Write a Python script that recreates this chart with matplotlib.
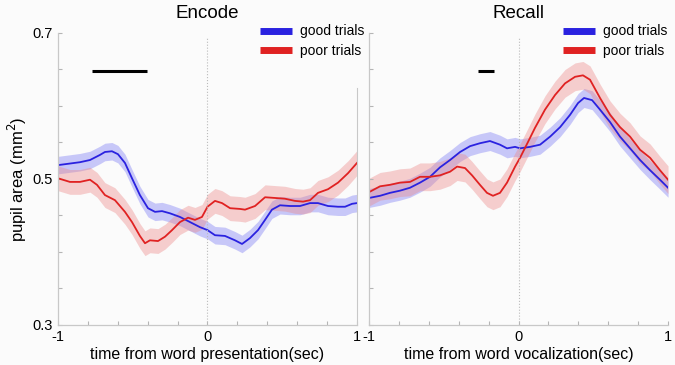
import matplotlib.pyplot as plt
import numpy as np
from matplotlib.lines import Line2D

plt.rcParams['font.family'] = ['Liberation Sans', 'DejaVu Sans']

# ---- data ----
t_enc_good = [-1.0, -0.853, -0.786, -0.719, -0.686, -0.639, -0.599, -0.552, -0.505, -0.452,
              -0.398, -0.351, -0.304, -0.251, -0.184, -0.117, -0.050, 0.0, 0.050, 0.117,
              0.184, 0.231, 0.284, 0.338, 0.385, 0.431, 0.485, 0.552, 0.619, 0.686,
              0.739, 0.806, 0.873, 0.920, 0.967, 1.0]
enc_good = [0.519, 0.523, 0.526, 0.533, 0.537, 0.538, 0.534, 0.522, 0.501, 0.478,
            0.460, 0.455, 0.456, 0.453, 0.448, 0.441, 0.434, 0.430, 0.423, 0.422,
            0.416, 0.411, 0.419, 0.430, 0.444, 0.458, 0.464, 0.463, 0.463, 0.467,
            0.467, 0.463, 0.462, 0.462, 0.466, 0.467]

t_enc_poor = [-1.0, -0.920, -0.853, -0.786, -0.739, -0.686, -0.619, -0.552, -0.505, -0.452,
              -0.418, -0.385, -0.331, -0.284, -0.237, -0.184, -0.130, -0.084, -0.037, 0.0,
              0.050, 0.097, 0.151, 0.217, 0.251, 0.318, 0.385, 0.452, 0.518, 0.585,
              0.639, 0.686, 0.739, 0.806, 0.873, 0.940, 1.0]
enc_poor = [0.501, 0.496, 0.496, 0.499, 0.492, 0.478, 0.471, 0.455, 0.441, 0.422,
            0.412, 0.416, 0.415, 0.421, 0.430, 0.441, 0.447, 0.444, 0.448, 0.462,
            0.470, 0.467, 0.460, 0.459, 0.458, 0.463, 0.475, 0.474, 0.473, 0.470,
            0.469, 0.471, 0.481, 0.486, 0.495, 0.508, 0.522]

t_rec_good = [-1.0, -0.926, -0.860, -0.793, -0.726, -0.659, -0.592, -0.525, -0.458, -0.391,
              -0.324, -0.258, -0.191, -0.124, -0.077, -0.023, 0.010, 0.077, 0.144, 0.211,
              0.278, 0.345, 0.398, 0.438, 0.492, 0.545, 0.612, 0.679, 0.746, 0.813,
              0.880, 0.946, 1.0]
rec_good = [0.474, 0.477, 0.481, 0.484, 0.488, 0.495, 0.503, 0.516, 0.526, 0.537,
            0.545, 0.549, 0.552, 0.547, 0.542, 0.544, 0.542, 0.544, 0.547, 0.558,
            0.571, 0.588, 0.604, 0.611, 0.608, 0.595, 0.578, 0.558, 0.542, 0.526,
            0.512, 0.499, 0.488]

t_rec_poor = [-1.0, -0.926, -0.860, -0.793, -0.726, -0.659, -0.592, -0.525, -0.458, -0.411,
              -0.358, -0.311, -0.258, -0.211, -0.171, -0.124, -0.077, -0.023, 0.010, 0.064,
              0.110, 0.177, 0.244, 0.311, 0.378, 0.431, 0.478, 0.545, 0.612, 0.679,
              0.746, 0.813, 0.880, 0.946, 1.0]
rec_poor = [0.482, 0.490, 0.492, 0.495, 0.496, 0.503, 0.503, 0.505, 0.510, 0.517,
            0.515, 0.505, 0.492, 0.481, 0.477, 0.481, 0.495, 0.517, 0.529, 0.551,
            0.570, 0.595, 0.615, 0.631, 0.640, 0.642, 0.636, 0.611, 0.588, 0.571,
            0.558, 0.540, 0.529, 0.512, 0.499]

# approximate half-width of shaded error bands
sem_enc_good, sem_enc_poor = 0.012, 0.017
sem_rec_good, sem_rec_poor = 0.013, 0.019

# significance bars (start, end) and height
sig_enc = [-0.773, -0.405]
sig_rec = [-0.271, -0.164]
sig_y = 0.648

blue = '#2a22e0'
red = '#e02222'
grey = '#b5b5b5'

fig = plt.figure(figsize=(6.75, 3.65), dpi=100, facecolor='#fbfbfb')
ax1 = fig.add_axes([0.0859, 0.1096, 0.443, 0.80])
ax2 = fig.add_axes([0.5467, 0.1096, 0.443, 0.80])

panels = [
    (ax1, 'Encode', 'time from word presentation(sec)',
     t_enc_good, enc_good, sem_enc_good, t_enc_poor, enc_poor, sem_enc_poor, sig_enc),
    (ax2, 'Recall', 'time from word vocalization(sec)',
     t_rec_good, rec_good, sem_rec_good, t_rec_poor, rec_poor, sem_rec_poor, sig_rec),
]

for ax, title, xlabel, tg, g, sg, tp, p, sp, sig in panels:
    ax.set_facecolor('#fbfbfb')
    tg, g, tp, p = map(np.array, (tg, g, tp, p))
    ax.fill_between(tg, g - sg, g + sg, color='#7b7bf5', alpha=0.4, lw=0)
    ax.fill_between(tp, p - sp, p + sp, color='#ec8a8a', alpha=0.4, lw=0)
    ax.plot(tg, g, color=blue, lw=1.3)
    ax.plot(tp, p, color=red, lw=1.3)
    ax.axvline(0, color='#bbbbbb', lw=0.8, ls=':', ymax=0.985)
    ax.plot(sig, [sig_y, sig_y], color='black', lw=2.2, solid_capstyle='butt')

    ax.set_xlim(-1, 1)
    ax.set_ylim(0.3, 0.7)
    ax.set_xticks(np.arange(-1, 1.01, 0.2), minor=True)
    ax.set_xticks([-1, 0, 1])
    ax.set_xticklabels(['-1', '0', '1'])
    ax.set_yticks(np.arange(0.3, 0.701, 0.05), minor=True)
    ax.set_yticks([0.3, 0.5, 0.7])
    ax.tick_params(which='both', direction='in', color=grey, length=3, width=0.8,
                   labelsize=10.5)
    ax.tick_params(axis='x', pad=3.5)
    ax.tick_params(axis='y', pad=4)
    for s in ['top', 'right']:
        ax.spines[s].set_visible(False)
    for s in ['left', 'bottom']:
        ax.spines[s].set_color('#c8c8c8')
        ax.spines[s].set_linewidth(0.9)
    ax.set_title(title, fontsize=13.5, pad=11)
    ax.set_xlabel(xlabel, fontsize=11.5, labelpad=2)

    handles = [Line2D([0], [0], color=blue, lw=5, solid_capstyle='butt'),
               Line2D([0], [0], color=red, lw=5, solid_capstyle='butt')]
    ax.legend(handles, ['good trials', 'poor trials'], loc='upper left',
              bbox_to_anchor=(0.607 if ax is ax2 else 0.634, 1.072), frameon=False,
              fontsize=10, handlelength=2.3, handletextpad=0.58, labelspacing=0.38)

ax1.set_ylabel('pupil area (mm$^2$)', fontsize=12, labelpad=2)
ax1.spines['right'].set_visible(True)
ax1.spines['right'].set_bounds(0.3, 0.625)
ax1.spines['right'].set_color('#c8c8c8')
ax2.set_yticklabels([])

plt.savefig('out.png', dpi=100, facecolor=fig.get_facecolor())
